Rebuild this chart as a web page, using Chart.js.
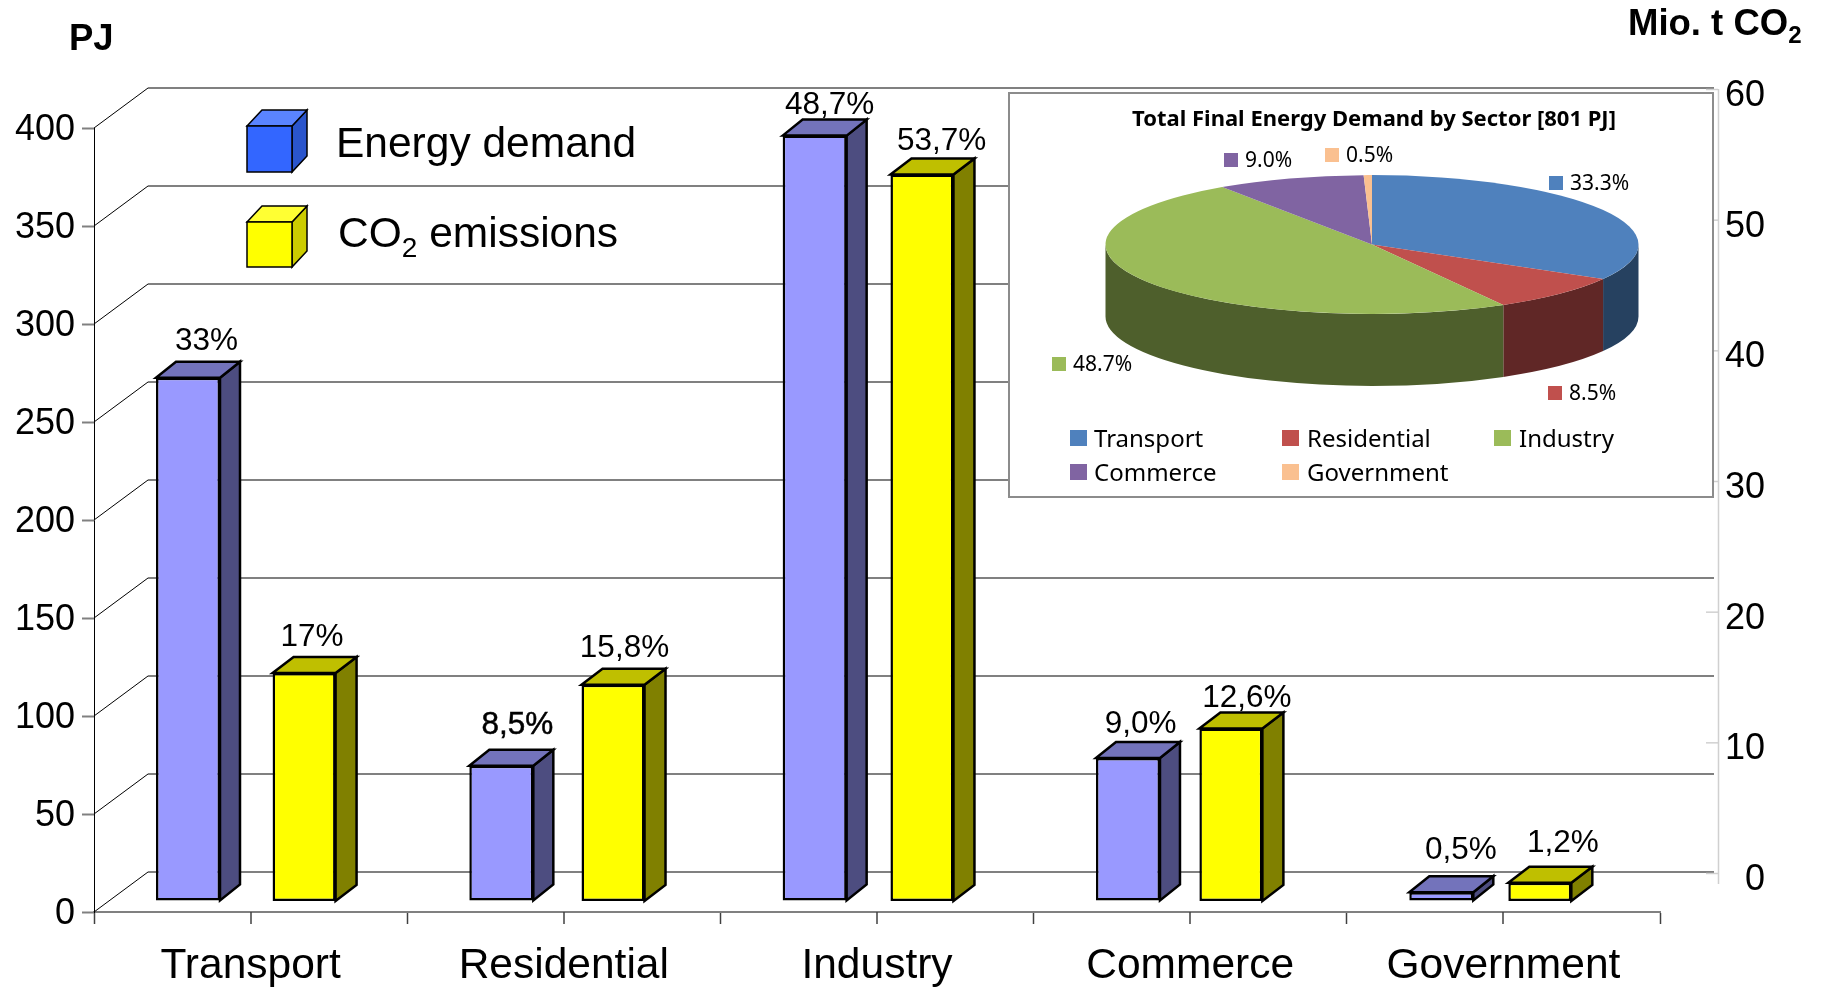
<!DOCTYPE html>
<html>
<head>
<meta charset="utf-8">
<title>Energy demand and CO2 emissions by sector</title>
<script src="https://cdn.jsdelivr.net/npm/chart.js@4/dist/chart.umd.min.js"></script>
<style>
    html, body { margin: 0; padding: 0; background: #fff; overflow: hidden; }
    #page { position: relative; width: 1821px; height: 988px; }
    #mainChart { position: absolute; left: 0; top: 0; }
    #pieChart { position: absolute; left: 1009px; top: 93px; background: #fff; outline: 2px solid #8c8c8c; outline-offset: -1px; }
    .txt { position: absolute; font-family: "Liberation Sans", Arial, sans-serif; color: #000; line-height: 1; white-space: nowrap; }
    .txt sub { line-height: 0; font-size: 66%; }
    .big { font-size: 42.5px; }
    .unit { font-size: 36.5px; font-weight: bold; }
</style>
</head>
<body>
<div id="page">
    <canvas id="mainChart" width="1821" height="988"></canvas>
    <div class="txt unit" style="left:69px; top:20px">PJ</div>
    <div class="txt unit" style="left:1628px; top:5px">Mio. t CO<sub>2</sub></div>
    <div class="txt big" style="left:336px; top:122px">Energy demand</div>
    <div class="txt big" style="left:338px; top:212px">CO<sub>2</sub> emissions</div>
    <canvas id="pieChart" width="704" height="404"></canvas>
</div>
<script>
const sectors = ['Transport', 'Residential', 'Industry', 'Commerce', 'Government'];
const energyDemand = [267, 69, 390.5, 73, 4.5];
const co2Emissions = [17.45, 16.55, 55.6, 13.2, 1.4];
const energyLabels = ['33%', '8,5%', '48,7%', '9,0%', '0,5%'];
const co2Labels = ['17%', '15,8%', '53,7%', '12,6%', '1,2%'];
const pieShares = [33.3, 8.5, 48.7, 9.0, 0.5];
const pieLabels = ['33.3%', '8.5%', '48.7%', '9.0%', '0.5%'];
const pieTitle = 'Total Final Energy Demand by Sector [801 PJ]';

// Depth of the fake 3D floor and of the bars, in pixels
const FLOOR_DX = 54, FLOOR_DY = 40;
const BAR_LIFT = 11, BAR_DY = 16;
const RIGHT_AXIS_X = 1718;
// The share labels were placed by hand in the original, these are the small shifts from the default spot
const energyLabelShift = [[3.5, -1], [1, -5], [0, 5.5], [-2.3, 2], [4.6, -6]];
const co2LabelShift = [[-7, 0], [-3.5, -1], [4.6, 3], [1, 5.5], [8, -3.5]];

const font = (size, bold) => (bold ? 'bold ' : '') + size + 'px "Liberation Sans", Arial, sans-serif';

// Top and side faces of a box whose front is left/right/top/bottom
function drawBoxFaces(ctx, left, right, top, bottom, dx, dy, topColor, sideColor, lineWidth) {
    ctx.lineWidth = lineWidth;
    ctx.strokeStyle = '#000';
    ctx.lineJoin = 'miter';
    ctx.fillStyle = sideColor;
    ctx.beginPath();
    ctx.moveTo(right, top);
    ctx.lineTo(right + dx, top - dy);
    ctx.lineTo(right + dx, bottom - dy);
    ctx.lineTo(right, bottom);
    ctx.closePath();
    ctx.fill();
    ctx.stroke();
    ctx.fillStyle = topColor;
    ctx.beginPath();
    ctx.moveTo(left, top);
    ctx.lineTo(left + dx, top - dy);
    ctx.lineTo(right + dx, top - dy);
    ctx.lineTo(right, top);
    ctx.closePath();
    ctx.fill();
    ctx.stroke();
}

function drawCube(ctx, left, right, top, bottom, front, topColor, side) {
    drawBoxFaces(ctx, left, right, top, bottom, 15, 16, topColor, side, 1.5);
    ctx.fillStyle = front;
    ctx.fillRect(left, top, right - left, bottom - top);
    ctx.strokeRect(left, top, right - left, bottom - top);
}

const floorPlugin = {
    id: 'floor',
    beforeDatasetsDraw(chart) {
        const ctx = chart.ctx;
        const y = chart.scales.y, y1 = chart.scales.y1, x = chart.scales.x;
        const area = chart.chartArea;
        ctx.save();

        // back wall lines and the diagonals running to them
        y.ticks.forEach(t => {
            const py = y.getPixelForValue(t.value);
            ctx.strokeStyle = '#000';
            ctx.lineWidth = 1;
            ctx.beginPath();
            ctx.moveTo(area.left, py);
            ctx.lineTo(area.left + FLOOR_DX, py - FLOOR_DY);
            ctx.stroke();
            ctx.strokeStyle = '#808080';
            ctx.lineWidth = 2;
            ctx.beginPath();
            ctx.moveTo(area.left + FLOOR_DX, py - FLOOR_DY);
            ctx.lineTo(area.right + FLOOR_DX, py - FLOOR_DY);
            ctx.stroke();
        });

        // extra ticks under each category name
        ctx.strokeStyle = '#404040';
        ctx.lineWidth = 1.5;
        sectors.forEach((s, i) => {
            const px = Math.round(x.getPixelForValue(i));
            ctx.beginPath();
            ctx.moveTo(px, area.bottom);
            ctx.lineTo(px, area.bottom + 12);
            ctx.stroke();
        });

        // right hand axis for the CO2 values, it sits on the back wall
        ctx.strokeStyle = '#d0d0d0';
        ctx.lineWidth = 1.5;
        ctx.beginPath();
        ctx.moveTo(RIGHT_AXIS_X + 0.5, y1.getPixelForValue(60) - 39);
        ctx.lineTo(RIGHT_AXIS_X + 0.5, y1.getPixelForValue(0) - 28);
        ctx.stroke();
        ctx.fillStyle = '#000';
        ctx.font = font(36);
        ctx.textAlign = 'right';
        ctx.textBaseline = 'middle';
        y1.ticks.forEach(t => {
            const py = y1.getPixelForValue(t.value) - 39;
            ctx.beginPath();
            ctx.moveTo(RIGHT_AXIS_X - 12, py + 0.5);
            ctx.lineTo(RIGHT_AXIS_X, py + 0.5);
            ctx.stroke();
            ctx.fillText(t.label, 1765, py + 7);
        });

        // legend cubes
        drawCube(ctx, 247, 292, 126, 172, '#3366ff', '#5a84ff', '#2a55cc');
        drawCube(ctx, 247, 292, 222, 267, '#ffff00', '#ffff33', '#cccc00');

        // bars sit a bit above the front edge of the floor
        ctx.translate(0, -BAR_LIFT);
        chart.data.datasets.forEach((ds, d) => {
            chart.getDatasetMeta(d).data.forEach(bar => {
                const left = bar.x - bar.width / 2, right = bar.x + bar.width / 2;
                drawBoxFaces(ctx, left, right, bar.y, bar.base, ds.depth, BAR_DY, ds.topColor, ds.sideColor, 2.5);
            });
        });
    },
    afterDatasetsDraw(chart) {
        const ctx = chart.ctx;
        ctx.restore();

        // share labels above each bar
        ctx.save();
        ctx.fillStyle = '#000';
        ctx.strokeStyle = '#000';
        ctx.lineWidth = 0.5;
        ctx.font = font(31.5);
        ctx.textAlign = 'center';
        ctx.textBaseline = 'alphabetic';
        chart.data.datasets.forEach((ds, d) => {
            chart.getDatasetMeta(d).data.forEach((bar, i) => {
                const [sx, sy] = ds.labelShift[i];
                const lx = bar.x + 15 + sx, ly = bar.y - BAR_LIFT - BAR_DY - 11 + sy;
                ctx.fillText(ds.shareLabels[i], lx, ly);
                // this one is printed heavier in the original
                if (ds.shareLabels[i] === '8,5%') ctx.strokeText(ds.shareLabels[i], lx, ly);
            });
        });
        ctx.restore();
    }
};

new Chart(document.getElementById('mainChart'), {
    type: 'bar',
    plugins: [floorPlugin],
    data: {
        labels: sectors,
        datasets: [
            {
                label: 'Energy demand',
                data: energyDemand.map((v, i) => ({ x: i, y: v })),
                xAxisID: 'xEnergy',
                yAxisID: 'y',
                backgroundColor: '#9999ff',
                topColor: '#7373bb',
                sideColor: '#4d4d80',
                depth: 20,
                shareLabels: energyLabels,
                labelShift: energyLabelShift,
                maxBarThickness: 64
            },
            {
                label: 'CO2 emissions',
                data: co2Emissions.map((v, i) => ({ x: i, y: v })),
                xAxisID: 'xCo2',
                yAxisID: 'y1',
                backgroundColor: '#ffff00',
                topColor: '#bfbf00',
                sideColor: '#808000',
                depth: 21,
                shareLabels: co2Labels,
                labelShift: co2LabelShift,
                maxBarThickness: 63
            }
        ]
    },
    options: {
        responsive: false,
        animation: false,
        grouped: false,
        clip: false,
        borderColor: '#000',
        borderWidth: 2.5,
        borderSkipped: false,
        events: [],
        layout: { padding: { top: 128, right: 161, left: 0, bottom: 0 } },
        plugins: { legend: { display: false }, tooltip: { enabled: false } },
        scales: {
            x: {
                type: 'category',
                offset: true,
                position: 'bottom',
                afterFit: s => { s.height = 76; },
                border: { color: '#808080', width: 2 },
                grid: { offset: true, drawOnChartArea: false, tickLength: 12, tickColor: '#404040', tickWidth: 1.5 },
                ticks: { color: '#000', font: { family: '"Liberation Sans"', size: 42.5 }, padding: 17, maxRotation: 0 }
            },
            // the two series were placed with slightly different spacing, so each has its own hidden x scale
            xEnergy: { type: 'linear', display: false, offset: false, min: -0.3, max: 4.698 },
            xCo2: { type: 'linear', display: false, offset: false, min: -0.68, max: 4.389 },
            y: {
                position: 'left',
                min: 0,
                max: 400,
                afterFit: s => { s.width = 94; },
                border: { color: '#000', width: 1 },
                grid: { drawOnChartArea: false, tickLength: 12, tickColor: '#808080', tickWidth: 2 },
                ticks: { stepSize: 50, color: '#000', font: { family: '"Liberation Sans"', size: 36 }, padding: 7, labelOffset: 2 }
            },
            y1: { position: 'right', display: false, min: 0, max: 60, ticks: { stepSize: 10 } }
        }
    }
});

// --- inset pie ---
const PIE_SQUASH = 69.4 / 266.5, PIE_HEIGHT = 72;
const pieFont = '"Noto Sans", sans-serif';
const pieTop = ['#4f81bd', '#c0504d', '#9bbb59', '#8064a2', '#fac090'];
const pieSide = ['#264160', '#602726', '#4e5f2c', '#403251', '#7d6048'];
// where the percentage tags and legend entries sit, relative to the inset
const pieLabelSpots = [[540, 90], [539, 300], [43, 271], [215, 67], [316, 62]];
const legendSpots = [[61, 346], [274, 346], [486, 346], [61, 380], [274, 380]];

const piePlugin = {
    id: 'pie3d',
    beforeDatasetsDraw(chart) {
        const ctx = chart.ctx;
        const arcs = chart.getDatasetMeta(0).data;
        const cx = arcs[0].x, cy = arcs[0].y, rx = arcs[0].outerRadius, ry = rx * PIE_SQUASH;
        // outer wall, only the part facing the viewer
        arcs.forEach((arc, i) => {
            const a0 = Math.max(arc.startAngle, 0), a1 = Math.min(arc.endAngle, Math.PI);
            if (a1 <= a0) return;
            ctx.fillStyle = pieSide[i];
            ctx.beginPath();
            ctx.ellipse(cx, cy, rx, ry, 0, a0, a1);
            ctx.ellipse(cx, cy + PIE_HEIGHT, rx, ry, 0, a1, a0, true);
            ctx.closePath();
            ctx.fill();
        });
        ctx.save();
        ctx.translate(cx, cy);
        ctx.scale(1, PIE_SQUASH);
        ctx.translate(-cx, -cy);
    },
    afterDatasetsDraw(chart) {
        const ctx = chart.ctx;
        ctx.restore();
        ctx.save();
        ctx.fillStyle = '#000';
        ctx.textBaseline = 'middle';
        ctx.textAlign = 'center';
        ctx.font = 'bold 22px ' + pieFont;
        ctx.fillText(pieTitle, 365, 27);

        ctx.textAlign = 'left';
        ctx.font = '21px ' + pieFont;
        pieLabels.forEach((label, i) => {
            const [px, py] = pieLabelSpots[i];
            ctx.fillStyle = pieTop[i];
            ctx.fillRect(px, py - 7, 14, 14);
            ctx.fillStyle = '#000';
            ctx.fillText(label, px + 21, py + 1);
        });

        ctx.font = '24px ' + pieFont;
        sectors.forEach((name, i) => {
            const [px, py] = legendSpots[i];
            ctx.fillStyle = pieTop[i];
            ctx.fillRect(px - (i % 3 ? 1 : 0), py - 9, 17, 16);
            ctx.fillStyle = '#000';
            ctx.fillText(name, px + 24, py + 1);
        });
        ctx.restore();
    }
};

new Chart(document.getElementById('pieChart'), {
    type: 'pie',
    plugins: [piePlugin],
    data: {
        labels: sectors,
        datasets: [{
            data: pieShares,
            backgroundColor: pieTop,
            borderWidth: 0,
            clip: false
        }]
    },
    options: {
        responsive: false,
        animation: false,
        events: [],
        radius: 266.5,
        layout: { padding: { left: 22, right: 0, top: 0, bottom: 101 } },
        plugins: { legend: { display: false }, tooltip: { enabled: false } }
    }
});
</script>
</body>
</html>
